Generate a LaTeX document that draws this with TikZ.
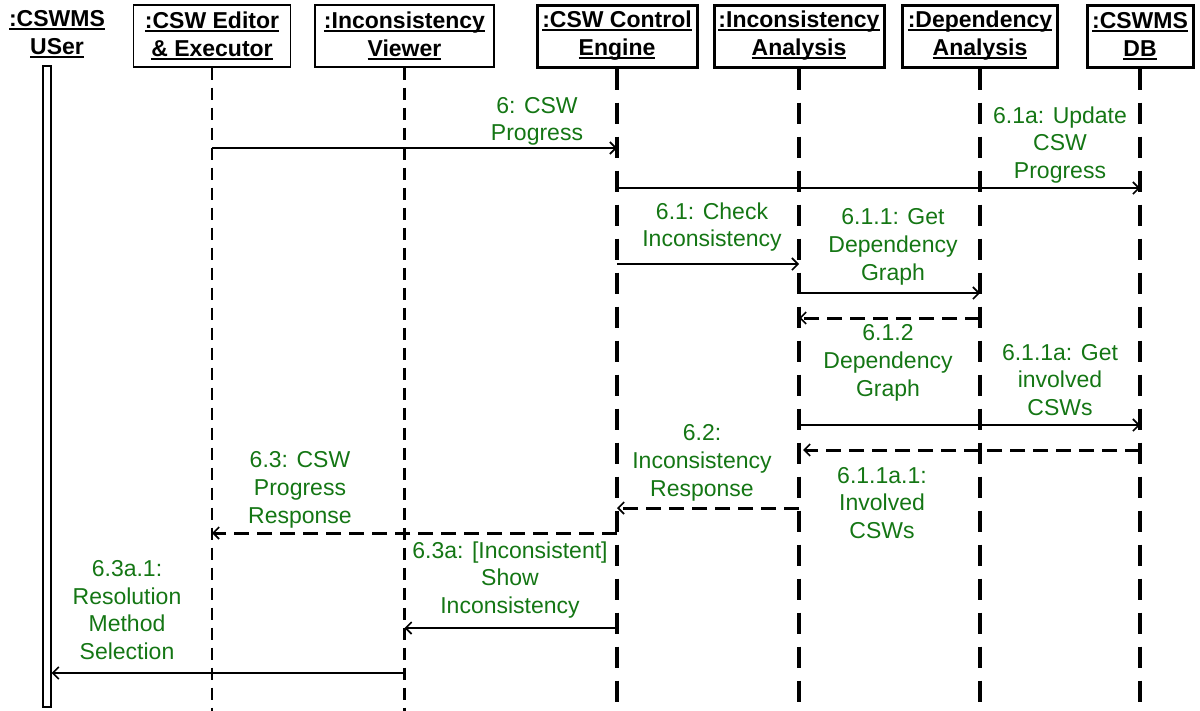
\documentclass[tikz,border=0pt]{standalone}
\usepackage{fontspec}
\setmainfont{Liberation Sans}
\usetikzlibrary{arrows.meta}
\definecolor{lblgreen}{RGB}{20,118,20}
\newcommand\hdrul[1]{{\setbox0\hbox{#1}\rlap{\rule[-3pt]{\wd0}{1.8pt}}\box0}}
\begin{document}
\begin{tikzpicture}[x=1pt,y=-1pt,
  hdr/.style={font=\fontsize{23}{28}\selectfont\bfseries, align=center, inner sep=0pt, minimum height=62pt},
  thinbox/.style={hdr, draw, line width=1.2pt},
  thickbox/.style={hdr, draw, line width=3pt},
  thinlife/.style={line width=2.2pt, dash pattern=on 12pt off 8pt},
  thicklife/.style={line width=4.5pt, dash pattern=on 21pt off 13pt},
  msg/.style={line width=1.5pt, -{Straight Barb[length=6pt,width=12pt,line width=1.6pt]}},
  ret/.style={msg, line width=3pt, dash pattern=on 15pt off 8pt},
  lbl/.style={font=\fontsize{23}{27.7}\selectfont, text=lblgreen, align=center, inner sep=0pt}
]
\useasboundingbox (0,0) rectangle (1200,710);

% headers
\node[hdr, minimum height=0pt] (usr) at (57,34) {\hdrul{:CSWMS}\\\hdrul{USer}};
\node[thinbox, minimum width=157pt] (ed) at (212,36) {\hdrul{:CSW Editor}\\\hdrul{\& Executor}};
\node[thinbox, minimum width=179pt] (vw) at (404.5,36) {\hdrul{:Inconsistency}\\\hdrul{Viewer}};
\node[thickbox, minimum width=160pt] (ce) at (617,36) {\hdrul{:CSW Control}\\\hdrul{Engine}};
\node[thickbox, minimum width=170pt] (ia) at (799,36) {\hdrul{:Inconsistency}\\\hdrul{Analysis}};
\node[thickbox, minimum width=155pt] (da) at (980,36) {\hdrul{:Dependency}\\\hdrul{Analysis}};
\node[thickbox, minimum width=106pt] (db) at (1140,36) {\hdrul{:CSWMS}\\\hdrul{DB}};

% lifelines
\node[draw, line width=1.3pt, fill=white, minimum width=8pt, minimum height=641pt, inner sep=0pt] (ub) at (47,386.5) {};
\coordinate (edend) at (ed.south |- 0,712);
\coordinate (vwend) at (vw.south |- 0,712);
\coordinate (ceend) at (ce.south |- 0,712);
\coordinate (iaend) at (ia.south |- 0,712);
\coordinate (daend) at (da.south |- 0,712);
\coordinate (dbend) at (db.south |- 0,712);
\draw[thinlife] (ed.south) -- (edend);
\draw[thinlife] (vw.south) -- (vwend);
\draw[thicklife] (ce.south) -- (ceend);
\draw[thicklife] (ia.south) -- (iaend);
\draw[thicklife] (da.south) -- (daend);
\draw[thicklife] (db.south) -- (dbend);

% messages
\draw[msg] (ed.south |- 0,148) -- (ce.south |- 0,148);
\draw[msg] (ce.south |- 0,188) -- (db.south |- 0,188);
\draw[msg] (ce.south |- 0,264) -- (ia.south |- 0,264);
\draw[msg] (ia.south |- 0,293) -- (da.south |- 0,293);
\draw[ret] (da.south |- 0,318) -- (ia.south |- 0,318);
\draw[msg] (ia.south |- 0,425) -- (db.south |- 0,425);
\draw[ret] (db.south |- 0,450) -- ([xshift=4pt]ia.south |- 0,450);
\draw[ret] (ia.south |- 0,508) -- (ce.south |- 0,508);
\draw[ret] (ce.south |- 0,533) -- (ed.south |- 0,533);
\draw[msg] (ce.south |- 0,628) -- (vw.south |- 0,628);
\draw[msg] (vw.south |- 0,673) -- (ub.east |- 0,673);

% labels
\node[lbl] (l6) at (537,121.5) {6: CSW\\Progress};
\node[lbl] (l61a) at (1060,145) {6.1a: Update\\CSW\\Progress};
\node[lbl] (l61) at (712,227) {6.1: Check\\Inconsistency};
\node[lbl] (l611) at (893,247) {6.1.1: Get\\Dependency\\Graph};
\node[lbl] (l612) at (888,363) {6.1.2\\Dependency\\Graph};
\node[lbl] (l611a) at (1060,380) {6.1.1a: Get\\involved\\CSWs};
\node[lbl] (l611a1) at (882,503) {6.1.1a.1:\\Involved\\CSWs};
\node[lbl] (l62) at (702,463) {6.2:\\Inconsistency\\Response};
\node[lbl] (l63) at (300,490) {6.3: CSW\\Progress\\Response};
\node[lbl] (l63a) at (510,580) {6.3a: [Inconsistent]\\Show\\Inconsistency};
\node[lbl] (l63a1) at (127,610) {6.3a.1:\\Resolution\\Method\\Selection};
\end{tikzpicture}
\end{document}
